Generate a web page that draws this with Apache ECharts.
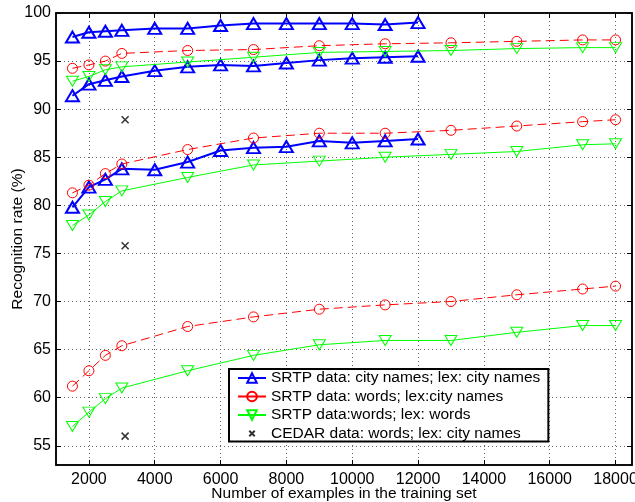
<!DOCTYPE html>
<html>
<head>
<meta charset="utf-8">
<script src="https://cdn.jsdelivr.net/npm/echarts@6/dist/echarts.min.js"></script>
<style>
html,body{margin:0;padding:0;background:#fff;}
#chart{width:635px;height:502px;}
</style>
</head>
<body>
<div id="chart"></div>
<script>
// ---- data ----
const xBlue = [1500,2000,2500,3000,4000,5000,6000,7000,8000,9000,10000,11000,12000];
const blueHigh = [97.5,98.0,98.1,98.2,98.4,98.4,98.7,98.9,98.9,98.9,98.9,98.8,99.0];
const blueMid  = [91.4,92.6,93.0,93.4,94.0,94.4,94.6,94.5,94.8,95.1,95.3,95.4,95.5];
const blueLow  = [79.8,81.9,82.7,83.8,83.7,84.5,85.7,86.0,86.1,86.7,86.5,86.7,86.9];

const xRG = [1500,2000,2500,3000,5000,7000,9000,11000,13000,15000,17000,18000];
const redHigh = [94.25,94.6,95.0,95.8,96.1,96.2,96.6,96.8,96.9,97.05,97.2,97.2];
const redMid  = [81.3,82.1,83.3,84.3,85.8,87.0,87.5,87.5,87.8,88.25,88.7,88.9];
const redLow  = [61.2,62.8,64.4,65.4,67.4,68.4,69.2,69.65,70.0,70.7,71.3,71.6];

const greenHigh = [92.9,93.4,94.1,94.4,94.9,95.4,95.9,96.0,96.1,96.3,96.4,96.4];
const greenMid  = [77.9,79.0,80.4,81.5,82.9,84.2,84.6,85.0,85.3,85.6,86.3,86.4];
const greenLow  = [57.0,58.5,59.9,61.0,62.8,64.4,65.5,65.95,65.95,66.8,67.5,67.5];

const cedarX = [3100,3100,3100];
const cedarY = [88.9,75.8,56.0];

const xTicks = [2000,4000,6000,8000,10000,12000,14000,16000,18000];
const yTicks = [55,60,65,70,75,80,85,90,95,100];

const seriesNames = [
  'SRTP data: city names; lex: city names',
  'SRTP data: words; lex:city names',
  'SRTP data:words; lex: words',
  'CEDAR data: words; lex: city names'
];

// ---- chart ----
const zip = (xs, ys) => xs.map((x, i) => [x, ys[i]]);
const FONT = '"Liberation Sans", Arial, sans-serif';
const BLUE = '#0000ff', RED = '#ff0000', GREEN = '#00ff00';

function blueSeries(ys) {
  return {
    name: seriesNames[0], type: 'line', data: zip(xBlue, ys),
    symbol: 'triangle', symbolSize: [13, 11],
    lineStyle: {color: BLUE, width: 2},
    itemStyle: {color: 'rgba(255,255,255,0)', borderColor: BLUE, borderWidth: 2},
    animation: false, z: 3
  };
}
function redSeries(ys) {
  return {
    name: seriesNames[1], type: 'line', data: zip(xRG, ys),
    symbol: 'circle', symbolSize: 10,
    lineStyle: {color: RED, width: 1, type: [9, 5]},
    itemStyle: {color: 'rgba(255,255,255,0)', borderColor: RED, borderWidth: 1},
    animation: false, z: 4
  };
}
function greenSeries(ys) {
  return {
    name: seriesNames[2], type: 'line', data: zip(xRG, ys),
    symbol: 'triangle', symbolRotate: 180, symbolSize: [12, 10],
    lineStyle: {color: GREEN, width: 1},
    itemStyle: {color: 'rgba(255,255,255,0)', borderColor: GREEN, borderWidth: 1},
    animation: false, z: 5
  };
}

const gridLine = {show: true, lineStyle: {color: '#666', width: 1, type: [1, 3]}};
const axisLineStyle = {show: true, onZero: false, lineStyle: {color: '#000', width: 1.5}};
const plain = v => String(v);

const chart = echarts.init(document.getElementById('chart'), null, {renderer: 'canvas'});
chart.setOption({
  backgroundColor: '#fff',
  animation: false,
  textStyle: {fontFamily: FONT},
  grid: {left: 56, right: 3, top: 13, bottom: 37, containLabel: false, outerBoundsMode: 'none',
         show: true, borderColor: '#000', borderWidth: 1.5, backgroundColor: 'transparent'},
  legend: {
    orient: 'vertical', left: 229, top: 369,
    data: [
      {name: seriesNames[0]},
      {name: seriesNames[1], lineStyle: {type: 'solid'}},
      {name: seriesNames[2]},
      {name: seriesNames[3], icon: 'path://M-6,-6M0,0L10,10M10,0L0,10M16,16'}
    ],
    itemWidth: 28, itemHeight: 12, itemGap: 2.5,
    padding: [1, 8, 0, 8],
    backgroundColor: '#fff', borderColor: '#000', borderWidth: 2,
    textStyle: {fontFamily: FONT, fontSize: 15.5, color: '#000'},
    selectedMode: false
  },
  xAxis: [{
    type: 'value', min: 1000, max: 18500, position: 'bottom',
    name: 'Number of examples in the training set', nameLocation: 'middle', nameGap: 21,
    nameMoveOverlap: false,
    nameTextStyle: {fontFamily: FONT, fontSize: 15.5, color: '#000'},
    axisLine: axisLineStyle,
    axisTick: {show: true, inside: true, length: 5, customValues: xTicks, lineStyle: {color: '#000', width: 1}},
    axisLabel: {customValues: xTicks, formatter: plain, fontFamily: FONT, fontSize: 16, color: '#000', margin: 7},
    splitLine: gridLine
  }, {
    type: 'value', min: 1000, max: 18500, position: 'top',
    axisLine: axisLineStyle,
    axisTick: {show: true, inside: true, length: 5, customValues: xTicks, lineStyle: {color: '#000', width: 1}},
    axisLabel: {show: false, customValues: xTicks},
    splitLine: {show: false}
  }],
  yAxis: [{
    type: 'value', min: 53, max: 100, position: 'left',
    name: 'Recognition rate (%)', nameLocation: 'middle', nameGap: 30,
    nameMoveOverlap: false,
    nameTextStyle: {fontFamily: FONT, fontSize: 15.5, color: '#000'},
    axisLine: axisLineStyle,
    axisTick: {show: true, inside: true, length: 5, customValues: yTicks, lineStyle: {color: '#000', width: 1}},
    axisLabel: {customValues: yTicks, formatter: plain, fontFamily: FONT, fontSize: 16, color: '#000', margin: 5},
    splitLine: gridLine
  }, {
    type: 'value', min: 53, max: 100, position: 'right',
    axisLine: axisLineStyle,
    axisTick: {show: true, inside: true, length: 5, customValues: yTicks, lineStyle: {color: '#000', width: 1}},
    axisLabel: {show: false, customValues: yTicks},
    splitLine: {show: false}
  }],
  series: [
    blueSeries(blueHigh), blueSeries(blueMid), blueSeries(blueLow),
    redSeries(redHigh), redSeries(redMid), redSeries(redLow),
    greenSeries(greenHigh), greenSeries(greenMid), greenSeries(greenLow),
    {
      name: seriesNames[3], type: 'scatter', data: zip(cedarX, cedarY),
      symbol: 'path://M0,0L10,10M10,0L0,10', symbolSize: 7,
      itemStyle: {color: 'rgba(0,0,0,0)', borderColor: '#000', borderWidth: 1.5},
      animation: false, z: 6
    }
  ]
});
</script>
</body>
</html>
